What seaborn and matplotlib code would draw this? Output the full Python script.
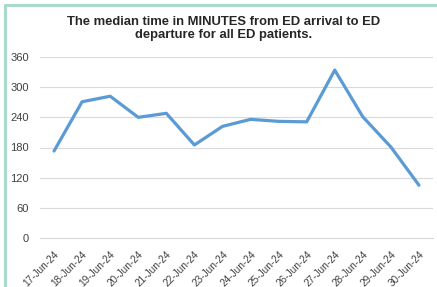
import pandas as pd; import numpy as np; import matplotlib.pyplot as plt; import seaborn as sns
from matplotlib.lines import Line2D

dates = ['17-Jun-24', '18-Jun-24', '19-Jun-24', '20-Jun-24', '21-Jun-24', '22-Jun-24', '23-Jun-24',
         '24-Jun-24', '25-Jun-24', '26-Jun-24', '27-Jun-24', '28-Jun-24', '29-Jun-24', '30-Jun-24']
minutes = [173, 271, 282, 240, 248, 185, 222, 236, 232, 231, 334, 241, 181, 105]
yticks = [0, 60, 120, 180, 240, 300, 360]

df = pd.DataFrame({'date': dates, 'minutes': minutes})

sns.set_style('white')
plt.rcParams['font.family'] = ['Liberation Sans', 'DejaVu Sans']

fig = plt.figure(figsize=(4.37, 2.87), dpi=100)
ax = fig.add_axes([40 / 437, 49 / 287, 393 / 437, 181 / 287])

sns.lineplot(ax=ax, x=np.arange(len(dates)), y='minutes', data=df, color='#5B9BD5', linewidth=2.3)

ax.set_xlim(-0.5, len(dates) - 0.5)
ax.set_ylim(0, 360)
ax.set_yticks(yticks)
ax.yaxis.grid(True, color='#D9D9D9', linewidth=0.8)
ax.set_axisbelow(True)
ax.set_xticks(np.arange(len(dates)))
ax.set_xticklabels(dates, rotation=45, ha='right', rotation_mode='anchor', fontsize=7.2, color='#404040')
ax.set_xticks(np.arange(len(dates) + 1) - 0.5, minor=True)
ax.tick_params(axis='x', which='major', length=0, pad=8)
ax.tick_params(axis='x', which='minor', length=4, color='#D9D9D9', width=0.8)
ax.tick_params(axis='y', length=0, labelsize=8, labelcolor='#404040', pad=8)
for s in ['top', 'right', 'left']:
    ax.spines[s].set_visible(False)
ax.spines['bottom'].set_color('#D9D9D9')
ax.spines['bottom'].set_linewidth(0.8)
ax.set_xlabel(''); ax.set_ylabel('')

fig.text(0.512, 0.945, 'The median time in MINUTES from ED arrival to ED\ndeparture for all ED patients.',
         ha='center', va='top', fontsize=9.4, fontweight='bold', linespacing=1.15)

# frame edge seen at the left and top of the picture
fig.add_artist(Line2D([4.5 / 437, 4.5 / 437], [0, 1 - 4.5 / 287], color='#A8DCC9', linewidth=2.2))
fig.add_artist(Line2D([4.5 / 437, 1], [1 - 4.5 / 287, 1 - 4.5 / 287], color='#A8DCC9', linewidth=2.2))

plt.savefig('out.png', dpi=100)
